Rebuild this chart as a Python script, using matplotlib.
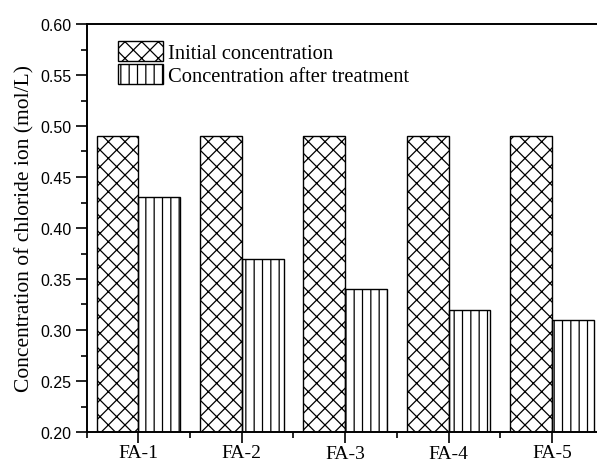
import matplotlib
matplotlib.use("Agg")
import matplotlib.pyplot as plt
import numpy as np
from matplotlib.transforms import ScaledTranslation
from matplotlib.ticker import MultipleLocator, FixedLocator

categories = ["FA-1", "FA-2", "FA-3", "FA-4", "FA-5"]
initial = [0.49, 0.49, 0.49, 0.49, 0.49]
after = [0.43, 0.37, 0.34, 0.32, 0.31]
series_labels = ["Initial concentration", "Concentration after treatment"]
ylabel = "Concentration of chloride ion (mol/L)"

plt.rcParams['hatch.linewidth'] = 0.9
W, H = 597, 464
fig = plt.figure(figsize=(W/100, H/100), dpi=100)
left = 86.7 / W
bottom = (H - 433) / H
top = (H - 25) / H
width = 5 * 103.4 / W
ax = fig.add_axes([left, bottom, width, top - bottom])

x = np.arange(1, len(categories) + 1)
bw = 0.405
ax.bar(x - bw/2, initial, width=bw, bottom=0, fill=False, hatch='xx',
       edgecolor='black', linewidth=1.0, label=series_labels[0])
ax.bar(x + bw/2, after, width=bw, bottom=0, fill=False, hatch='||',
       edgecolor='black', linewidth=1.0, label=series_labels[1])

ax.set_xlim(0.5, 5.5)
ax.set_ylim(0.20, 0.60)

ax.yaxis.set_major_locator(MultipleLocator(0.05))
ax.yaxis.set_minor_locator(MultipleLocator(0.025))
ax.xaxis.set_major_locator(FixedLocator(x))
ax.xaxis.set_minor_locator(FixedLocator(np.arange(0.5, 6.0, 1.0)))

ax.set_xticks(x)
ax.set_xticklabels(categories, fontfamily='Liberation Serif', fontsize=14)
ax.set_yticklabels([f"{v:.2f}" for v in ax.get_yticks()],
                   fontfamily='Liberation Sans', fontsize=11.5)

ax.tick_params(axis='both', which='major', direction='out', length=8, width=1.2, top=False, right=False)
ax.tick_params(axis='both', which='minor', direction='out', length=4.5, width=1.2, top=False, right=False)
ax.tick_params(axis='x', which='major', pad=0.5)
ax.tick_params(axis='y', which='major', pad=3)

for s in ax.spines.values():
    s.set_linewidth(1.4)

# slight vertical offsets of category labels as in reference
offsets_px = [0, 0, 1.5, 1.5, 0.5]
for lab, dy in zip(ax.get_xticklabels(), offsets_px):
    lab.set_transform(lab.get_transform() + ScaledTranslation(0, -dy/100, fig.dpi_scale_trans))

ax.set_ylabel(ylabel, fontfamily='Liberation Serif', fontsize=15.5, labelpad=4)

leg = ax.legend(loc='upper left', bbox_to_anchor=(118/W, 1 - 42/H),
                bbox_transform=fig.transFigure, frameon=False,
                prop={'family': 'Liberation Serif', 'size': 14.8},
                handlelength=2.2, handleheight=1.1, handletextpad=0.25,
                labelspacing=0.05, borderpad=0, borderaxespad=0)

fig.savefig("out.png", dpi=100)
